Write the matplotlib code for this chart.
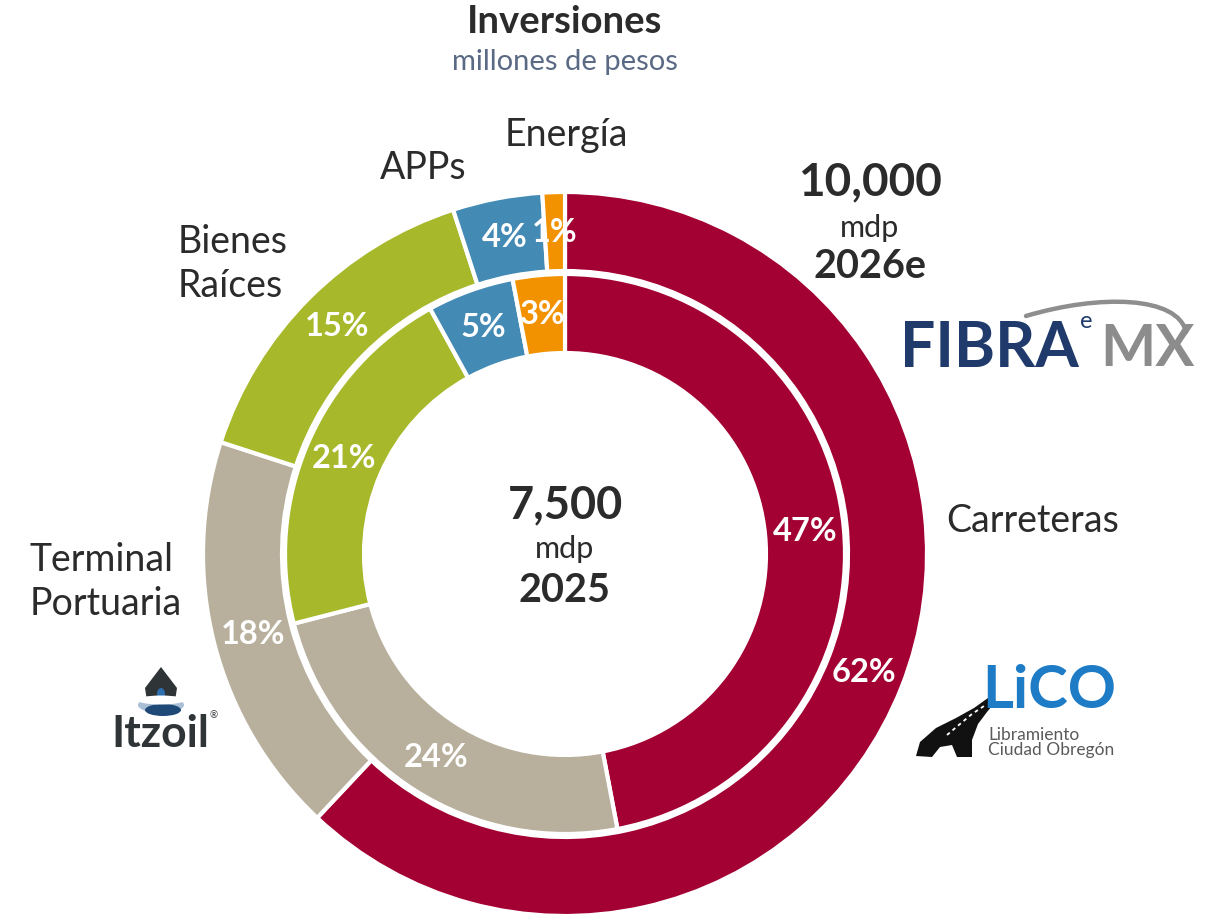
import matplotlib
matplotlib.use("Agg")
import matplotlib.pyplot as plt
from matplotlib.path import Path
from matplotlib.patches import PathPatch, Polygon, Ellipse
import numpy as np

plt.rcParams['font.family'] = ['Lato', 'DejaVu Sans']

# ---- data -------------------------------------------------------------
categories = ["Carreteras", "Terminal\nPortuaria", "Bienes\nRaíces", "APPs", "Energía"]
share_2026e = [62, 18, 15, 4, 1]     # outer ring, %
share_2025 = [47, 24, 21, 5, 3]      # inner ring, %
total_2026e = "10,000"
total_2025 = "7,500"
colors = ["#A30033", "#B8B09D", "#A7B82A", "#438AB4", "#F39200"]

W, H = 1217, 916
fig = plt.figure(figsize=(W / 100, H / 100), dpi=100)
ax = fig.add_axes([0, 0, 1, 1])


def Y(py):
    """Convert a top-down pixel row into data y."""
    return H - py


cx, cy = 565, Y(554)
edge = dict(edgecolor="white", linewidth=3.0)

outer, _ = ax.pie(share_2026e, radius=362, center=(cx, cy), startangle=90,
                  counterclock=False, colors=colors,
                  wedgeprops=dict(width=79, **edge))
inner, _ = ax.pie(share_2025, radius=280, center=(cx, cy), startangle=90,
                  counterclock=False, colors=colors,
                  wedgeprops=dict(width=79, **edge))


def label_ring(wedges, values, r):
    for w, v in zip(wedges, values):
        mid = np.deg2rad((w.theta1 + w.theta2) / 2)
        ax.text(cx + r * np.cos(mid), cy + r * np.sin(mid), f"{v}%",
                ha="center", va="center", color="white", fontsize=23.5,
                fontweight="bold")


label_ring(outer, share_2026e, 322)
label_ring(inner, share_2025, 241)

ax.set_xlim(0, W)
ax.set_ylim(0, H)
ax.set_aspect("equal")
ax.axis("off")

dark = "#2b2b2b"

# ---- titles -----------------------------------------------------------
ax.text(565, Y(22), "Inversiones", ha="center", va="center", fontsize=27.5,
        fontweight="bold", color=dark)
ax.text(565, Y(62), "millones de pesos", ha="center", va="center",
        fontsize=21, color="#5B6A84")

# ---- category names ---------------------------------------------------
cat_style = dict(fontsize=27, color=dark, linespacing=1.25)
ax.text(946, Y(521), categories[0], ha="left", va="center", **cat_style)
ax.text(30, Y(582), categories[1], ha="left", va="center", **cat_style)
ax.text(178, Y(264), categories[2], ha="left", va="center", **cat_style)
ax.text(423, Y(168), categories[3], ha="center", va="center", **cat_style)
ax.text(566, Y(135), categories[4], ha="center", va="center", **cat_style)

# ---- totals -----------------------------------------------------------
ax.text(565, Y(505), total_2025, ha="center", va="center", fontsize=32.5,
        fontweight="bold", color=dark)
ax.text(565, Y(549), "mdp", ha="center", va="center", fontsize=22, color=dark)
ax.text(565, Y(590), "2025", ha="center", va="center", fontsize=28.5,
        fontweight="bold", color=dark)

ax.text(870, Y(182), total_2026e, ha="center", va="center", fontsize=33,
        fontweight="bold", color=dark)
ax.text(870, Y(228), "mdp", ha="center", va="center", fontsize=22, color=dark)
ax.text(870, Y(267), "2026e", ha="center", va="center", fontsize=28.5,
        fontweight="bold", color=dark)

# ---- FIBRA eMX mark ---------------------------------------------------
navy = "#1F3A6B"
swoosh = Path([(1026, Y(316)), (1100, Y(294)), (1178, Y(296)), (1186, Y(332))],
              [Path.MOVETO, Path.CURVE4, Path.CURVE4, Path.CURVE4])
ax.add_patch(PathPatch(swoosh, fill=False, edgecolor="#8E8E8E", linewidth=3.2,
                       capstyle="round"))
ax.text(900, Y(349), "FIBRA", ha="left", va="center", fontsize=45,
        fontweight="bold", color=navy)
ax.text(1080, Y(321), "e", ha="left", va="center", fontsize=17, color=navy)
ax.text(1100, Y(349), "MX", ha="left", va="center", fontsize=42,
        fontweight="bold", color="#8C8C8C")

# ---- LiCO mark --------------------------------------------------------
road = [(916, Y(756)), (920, Y(742)), (936, Y(728)), (956, Y(718)),
        (974, Y(708)), (988, Y(698)), (996, Y(701)), (987, Y(712)),
        (978, Y(724)), (972, Y(740)), (972, Y(757)), (957, Y(757)),
        (952, Y(745)), (940, Y(747)), (932, Y(757))]
ax.add_patch(Polygon(road, closed=True, facecolor="#111111", edgecolor="none"))
ax.plot([947, 960, 972, 984], [Y(735), Y(724), Y(714), Y(706)],
        color="white", linewidth=1.3, linestyle=(0, (2, 2)))
ax.text(982, Y(691), "LiCO", ha="left", va="center", fontsize=43,
        fontweight="bold", color="#1E7CC6")
ax.text(988, Y(735), "Libramiento", ha="left", va="center", fontsize=12.5,
        color="#5A5A5A")
ax.text(988, Y(750), "Ciudad Obregón", ha="left", va="center", fontsize=12.5,
        color="#5A5A5A")

# ---- Itzoil mark ------------------------------------------------------
ax.add_patch(Polygon([(161, Y(667)), (145, Y(688)), (147, Y(701)),
                      (175, Y(701)), (177, Y(688))], closed=True,
                     facecolor="#2F3437", edgecolor="none"))
ax.add_patch(Ellipse((161, Y(694)), 8, 12, facecolor="#2E6FB0",
                     edgecolor="none"))
ax.add_patch(Ellipse((161, Y(705)), 46, 16, facecolor="#A9BFD6",
                     edgecolor="none"))
ax.add_patch(Ellipse((163, Y(710)), 36, 12, facecolor="#1F4A78",
                     edgecolor="none"))
ax.add_patch(Ellipse((161, Y(700)), 48, 9, facecolor="white",
                     edgecolor="none"))
ax.text(160, Y(734), "Itzoil", ha="center", va="center", fontsize=32,
        fontweight="bold", color="#2F3437")
ax.text(214, Y(716), "®", ha="center", va="center", fontsize=7,
        color="#2F3437")

fig.savefig("out.png", dpi=100, facecolor="white")
